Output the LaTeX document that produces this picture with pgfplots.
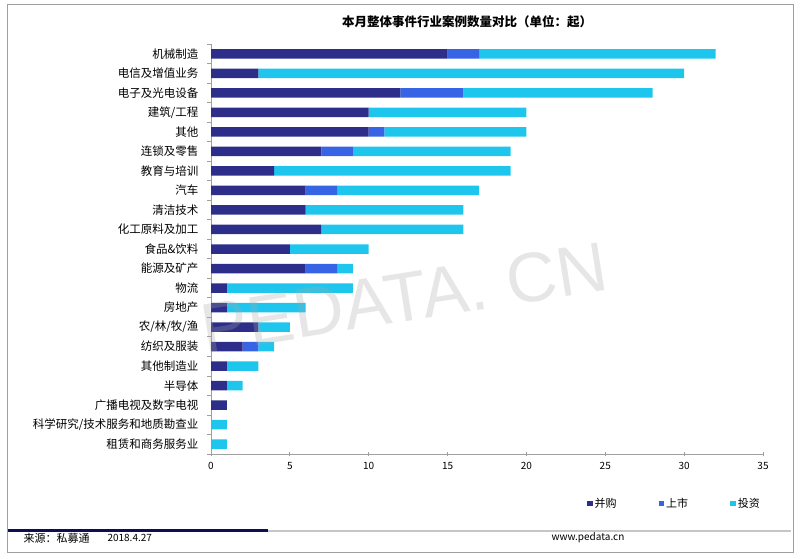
\documentclass[border=0pt]{standalone}
\usepackage{pgfplots}
\pgfplotsset{compat=1.18}
\usepackage{pgfplotstable}
\usepackage{fontspec}
\setmainfont{Noto Sans CJK SC}
\newfontfamily\wmfont{Liberation Sans}
\definecolor{cMA}{RGB}{45,46,138}
\definecolor{cIPO}{RGB}{54,100,228}
\definecolor{cINV}{RGB}{30,198,238}
\definecolor{footnavy}{RGB}{14,14,82}
\pgfplotstableread{
idx M L I
0 15 2 15
1 3 0 27
2 12 4 12
3 10 0 10
4 10 1 9
5 7 2 10
6 4 0 15
7 6 2 9
8 6 0 10
9 7 0 9
10 5 0 5
11 6 2 1
12 1 0 8
13 1 0 5
14 3 0 2
15 2 1 1
16 1 0 2
17 1 0 1
18 1 0 0
19 0 0 1
20 0 0 1
}\datatable
\begin{document}
\begin{tikzpicture}
\path[use as bounding box] (0,0) rectangle (800pt,559pt);
\draw[gray!75, line width=1pt] (7pt,6pt) rectangle (793pt,554pt);
\node[font=\bfseries\fontsize{12.5}{14}\selectfont] at (467pt,537pt) {本月整体事件行业案例数量对比（单位：起）};
\begin{axis}[
  at={(211pt,105pt)}, anchor=south west,
  width=552pt, height=410pt, scale only axis,
  xbar stacked, bar width=9.5pt,
  xmin=0, xmax=35, xtick={0,5,...,35},
  ymin=-0.5, ymax=20.5, y dir=reverse,
  ytick={0,...,20},
  yticklabels={机械制造,电信及增值业务,电子及光电设备,建筑/工程,其他,连锁及零售,教育与培训,汽车,清洁技术,化工原料及加工,食品\&饮料,能源及矿产,物流,房地产,农/林/牧/渔,纺织及服装,其他制造业,半导体,广播电视及数字电视,科学研究/技术服务和地质勘查业,租赁和商务服务业},
  minor ytick={-0.5,0.5,...,20.5},
  axis lines*=left,
  axis line style={gray!75, line width=0.8pt},
  every major y tick/.append style={draw=none},
  every minor y tick/.append style={gray!75, line width=0.8pt},
  every major x tick/.append style={gray!75, line width=0.8pt},
  minor tick length=4pt, major tick length=4pt,
  ytick align=outside, xtick align=center,
  /pgf/number format/assume math mode=true,
  yticklabel style={font=\fontsize{11.5}{13}\selectfont, xshift=-5pt},
  xticklabel style={font=\fontsize{10}{12}\selectfont, yshift=-3pt},
  legend style={at={(axis description cs:1,0)}, anchor=north east, yshift=-40pt, xshift=2pt,
    draw=none, fill=none, legend columns=3, font=\fontsize{11}{13}\selectfont,
    /tikz/every even column/.append style={column sep=40pt}},
  legend image code/.code={\fill[#1] (0pt,-2.8pt) rectangle (5.6pt,2.8pt);},
]
\addplot[fill=cMA, draw=none] table[x=M, y=idx] {\datatable};
\addplot[fill=cIPO, draw=none] table[x=L, y=idx] {\datatable};
\addplot[fill=cINV, draw=none] table[x=I, y=idx] {\datatable};
\legend{并购,上市,投资}
\end{axis}
\node[anchor=base west, rotate=9, font=\wmfont\fontsize{70}{72}\selectfont, text=gray!70, text opacity=0.28] at (202pt,205pt) {PEDATA. CN};
\draw[footnavy, line width=3pt] (8pt,28pt) -- (268pt,28pt);
\draw[gray!45, line width=2.2pt] (268pt,28pt) -- (791pt,28pt);
\node[anchor=west, font=\fontsize{11}{13}\selectfont] at (20pt,21pt) {来源：私募通};
\node[anchor=west, font=\fontsize{10}{12}\selectfont] at (104pt,21pt) {2018.4.27};
\node[anchor=west, font=\fontsize{10}{12}\selectfont] at (548pt,21pt) {www.pedata.cn};
\end{tikzpicture}
\end{document}
